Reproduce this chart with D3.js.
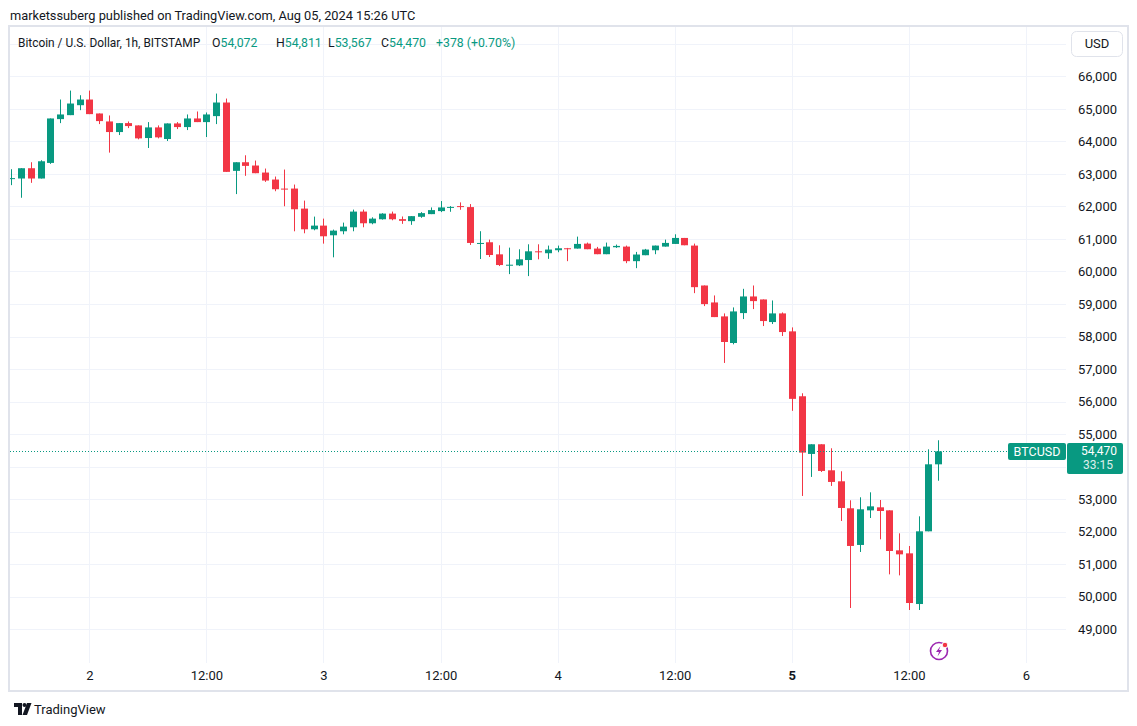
<!DOCTYPE html>
<html>
<head>
<meta charset="utf-8">
<title>BTCUSD 1h</title>
<script src="https://cdn.jsdelivr.net/npm/d3@7"></script>
<style>
body{margin:0;background:#fff;}
text{font-family:Roboto, "Noto Sans", sans-serif;fill:#131722;}
</style>
</head>
<body>
<script>
// hourly candles, BITSTAMP BTC/USD, first one is 1 Aug 16:00 UTC
var firstCandle = "2024-08-01T16:00:00Z";

var opens = [62850,62858,63174,62858,63337,64684,64806,65112,65286,64857,64612,64286,64561,64490,64102,64429,
  64072,64551,64439,64704,64592,64776,65194,63093,63358,63257,63041,62826,62548,62549,61933,61297,
  61410,61113,61236,61359,61841,61482,61605,61779,61609,61547,61681,61763,61856,61975,62010,61979,
  60870,60898,60527,60198,60188,60352,60620,60561,60653,60714,60704,60857,60704,60531,60745,60765,
  60317,60500,60653,60765,60847,61031,60796,59569,59048,58619,57801,58721,59232,59140,58445,58711,
  58159,56164,54391,54688,53888,53550,52720,51593,52657,52750,52657,51427,51335,49777,52012,54072];
var highs = [63144,63174,63358,63420,64704,65286,65561,65418,65561,64857,64796,64561,64612,64490,64592,64490,
  64551,64592,64827,64918,64888,65469,65316,63358,63572,63410,63164,62918,63133,62672,62179,61687,
  61625,61287,61502,61902,61902,61666,61790,61841,61691,61701,61825,61969,62165,62010,62124,62072,
  61238,60980,60805,60733,60682,60836,60836,60796,60796,60724,61071,60888,60755,60888,60827,60796,
  60602,60694,60796,60980,61143,61031,60857,59569,59263,58711,58895,59467,59569,59140,59109,58741,
  58281,56256,54688,54688,54565,53858,52966,53058,53211,52975,52657,51950,51561,52473,54533,54811];
var lows = [62654,62266,62725,62858,63307,64561,64806,64959,64837,64531,63654,64194,64408,64062,63796,64092,
  64011,64378,64347,64592,64133,64531,63062,62379,62940,63021,62754,62467,62005,61235,61174,61266,
  60856,60435,61143,61236,61359,61451,61595,61574,61464,61434,61650,61763,61825,61835,61897,60815,
  60383,60445,60167,59919,60167,59858,60373,60388,60592,60317,60704,60684,60531,60531,60724,60255,
  60102,60500,60531,60765,60847,60806,59334,58936,58598,57188,57760,58537,58844,58322,58384,58016,
  55716,53099,53684,53837,53407,52330,49655,51377,52422,51766,50689,50658,49593,49593,52012,53567];
var closes = [62870,63174,62858,63388,64704,64827,65163,65286,64837,64623,64286,64561,64470,64092,64429,64123,
  64551,64439,64704,64592,64827,65194,63062,63358,63246,63021,62795,62528,62528,61912,61297,61410,
  61082,61256,61379,61841,61482,61625,61779,61605,61557,61701,61794,61887,61969,61985,61995,60877,
  60877,60506,60198,60208,60373,60620,60610,60674,60714,60704,60847,60684,60531,60765,60786,60317,
  60521,60674,60796,60878,61031,60806,59518,58997,58598,57832,58772,59232,59089,58476,58711,58138,
  56084,54432,54688,53868,53530,52730,51562,52689,52780,52637,51407,51304,49808,52012,54072,54470];

var priceTicks = [49000,50000,51000,52000,53000,54000,55000,56000,57000,58000,59000,60000,61000,62000,63000,64000,65000,66000];
var priceGrid = priceTicks.concat([67000]);
var timeTicks = ["2024-08-02T00:00:00Z","2024-08-02T12:00:00Z","2024-08-03T00:00:00Z","2024-08-03T12:00:00Z",
  "2024-08-04T00:00:00Z","2024-08-04T12:00:00Z","2024-08-05T00:00:00Z","2024-08-05T12:00:00Z","2024-08-06T00:00:00Z"];
var timeLabels = ["2","12:00","3","12:00","4","12:00","5","12:00","6"];

var lastPrice = 54470;
var lastLabel = "54,470";
var countdown = "33:15";
var headerLine = "marketssuberg published on TradingView.com, Aug 05, 2024 15:26 UTC";
var symbolTitle = "Bitcoin / U.S. Dollar, 1h, BITSTAMP";
var legendKeys = ["O","H","L","C"];
var legendVals = ["54,072","54,811","53,567","54,470"];
var changeText = "+378 (+0.70%)";

var up = "#089981", down = "#f23645", grid = "#f0f3fa";

function drawChart(){
    var width = 1137, height = 726;
    var left = 10, right = 1066, top = 27, bottom = 663;

    var svg = d3.select("body").append("svg")
        .attr("width", width)
        .attr("height", height);

    svg.append("defs").append("clipPath").attr("id","plot")
        .append("rect").attr("x",left).attr("y",top)
        .attr("width",right-left).attr("height",bottom-top);

    var x = d3.scaleUtc()
        .domain([new Date(timeTicks[0]), new Date(timeTicks[timeTicks.length-1])])
        .range([89.3, 1026]);
    var y = d3.scaleLinear()
        .domain([49000, 66000])
        .range([629.3, 76.3]);

    // grid
    var gg = svg.append("g").attr("clip-path","url(#plot)");
    gg.selectAll("line.h").data(priceGrid).enter().append("line")
        .attr("x1",left).attr("x2",right)
        .attr("y1",function(d){return Math.round(y(d))+0.5;})
        .attr("y2",function(d){return Math.round(y(d))+0.5;})
        .attr("stroke",grid);
    gg.selectAll("line.v").data(timeTicks).enter().append("line")
        .attr("y1",top).attr("y2",bottom)
        .attr("x1",function(d){return Math.round(x(new Date(d)))+0.5;})
        .attr("x2",function(d){return Math.round(x(new Date(d)))+0.5;})
        .attr("stroke",grid);

    // frame
    svg.append("rect")
        .attr("x",9).attr("y",26).attr("width",1119).attr("height",665)
        .attr("fill","none").attr("stroke","#e0e3eb").attr("stroke-width",2);

    var start = new Date(firstCandle);
    var candles = opens.map(function(o,i){
        return {t: d3.utcHour.offset(start,i), o:o, h:highs[i], l:lows[i], c:closes[i]};
    });

    var cg = svg.append("g").attr("clip-path","url(#plot)");
    cg.selectAll("line.wick").data(candles).enter().append("line")
        .attr("x1",function(d){return Math.round(x(d.t))+0.5;})
        .attr("x2",function(d){return Math.round(x(d.t))+0.5;})
        .attr("y1",function(d){return y(d.h);})
        .attr("y2",function(d){return y(d.l);})
        .attr("stroke",function(d){return d.c>=d.o ? up : down;});
    cg.selectAll("rect.body").data(candles).enter().append("rect")
        .attr("x",function(d){return Math.round(x(d.t))-3;})
        .attr("width",7)
        .attr("y",function(d){return y(Math.max(d.o,d.c));})
        .attr("height",function(d){return Math.max(1, Math.abs(y(d.o)-y(d.c)));})
        .attr("fill",function(d){return d.c>=d.o ? up : down;});

    // last price dotted line
    var ly = Math.round(y(lastPrice));
    svg.append("line")
        .attr("x1",left).attr("x2",1008)
        .attr("y1",ly+0.5).attr("y2",ly+0.5)
        .attr("stroke",up).attr("stroke-dasharray","1,2");

    // price axis, labels hidden under the last price box are skipped
    var shown = priceTicks.filter(function(p){ return Math.abs(y(p)-(ly+7)) > 20; });
    var ya = svg.append("g")
        .attr("transform","translate(1117,0)")
        .call(d3.axisLeft(y).tickValues(shown).tickSize(0).tickPadding(0).tickFormat(d3.format(",")));
    ya.select(".domain").remove();
    ya.selectAll("text").attr("font-size",13).attr("font-family",null).style("fill","#131722");

    // time axis
    var xa = svg.append("g")
        .attr("transform","translate(0,671)")
        .call(d3.axisBottom(x).tickValues(timeTicks.map(function(d){return new Date(d);}))
            .tickSize(0).tickPadding(0)
            .tickFormat(function(d,i){return timeLabels[i];}));
    xa.select(".domain").remove();
    xa.selectAll("text").attr("font-size",13).attr("font-family",null).style("fill","#131722")
        .attr("font-weight",function(d,i){return timeLabels[i]=="5" ? "bold" : null;});

    // labels for the last price
    svg.append("rect").attr("x",1008).attr("y",ly-8).attr("width",58).attr("height",17)
        .attr("rx",2).attr("fill",up);
    svg.append("text").attr("x",1037).attr("y",ly+4.5).attr("text-anchor","middle")
        .attr("font-size",12.5).style("fill","#fff").text("BTCUSD");
    svg.append("rect").attr("x",1067).attr("y",ly-8).attr("width",56).attr("height",31)
        .attr("rx",2).attr("fill",up);
    svg.append("text").attr("x",1117).attr("y",ly+3.5).attr("text-anchor","end")
        .attr("font-size",12).style("fill","#fff").text(lastLabel);
    svg.append("text").attr("x",1113).attr("y",ly+18).attr("text-anchor","end")
        .attr("font-size",12).style("fill","#fff").style("opacity",0.85).text(countdown);

    // USD button
    svg.append("rect").attr("x",1071.5).attr("y",31.5).attr("width",51).attr("height",25)
        .attr("rx",5).attr("fill","#fff").attr("stroke","#e0e3eb");
    svg.append("text").attr("x",1097).attr("y",48).attr("text-anchor","middle")
        .attr("font-size",13).text("USD");

    // texts on top
    svg.append("text").attr("x",10).attr("y",20).attr("font-size",12.8).text(headerLine);
    var t = svg.append("text").attr("x",18).attr("y",47).attr("font-size",12.3);
    t.append("tspan").attr("font-size",11.9).text(symbolTitle);
    var legendX = [212, 276, 328, 381];
    legendKeys.forEach(function(k,i){
        t.append("tspan").attr("x", legendX[i]).text(k);
        t.append("tspan").style("fill",up).text(legendVals[i]);
    });
    t.append("tspan").attr("x",436).style("fill",up).text(changeText);

    // lightning icon near the last bars
    var ic = svg.append("g").attr("transform","translate(939,651)");
    ic.append("circle").attr("r",8.5).attr("fill","#fff").attr("stroke","#9c27b0").attr("stroke-width",1.6);
    ic.append("path").attr("d","M1.5,-5 L-3,1 L0,1 L-1.5,5.5 L3,-1 L0,-1 Z").attr("fill","#9c27b0");
    ic.append("circle").attr("cx",6).attr("cy",-6).attr("r",2.8).attr("fill",down).attr("stroke","#fff");

    // TradingView mark
    var lg = svg.append("g").attr("transform","translate(14,703)");
    lg.append("path").attr("d","M0,0 H8 V12 H4 V4 H0 Z").attr("fill","#131722");
    lg.append("circle").attr("cx",10.5).attr("cy",2).attr("r",2).attr("fill","#131722");
    lg.append("path").attr("d","M13,0 H17.5 L13,12 H8.5 Z").attr("fill","#131722");
    svg.append("text").attr("x",34).attr("y",714).attr("font-size",13).text("TradingView");
}

drawChart();
</script>
</body>
</html>
